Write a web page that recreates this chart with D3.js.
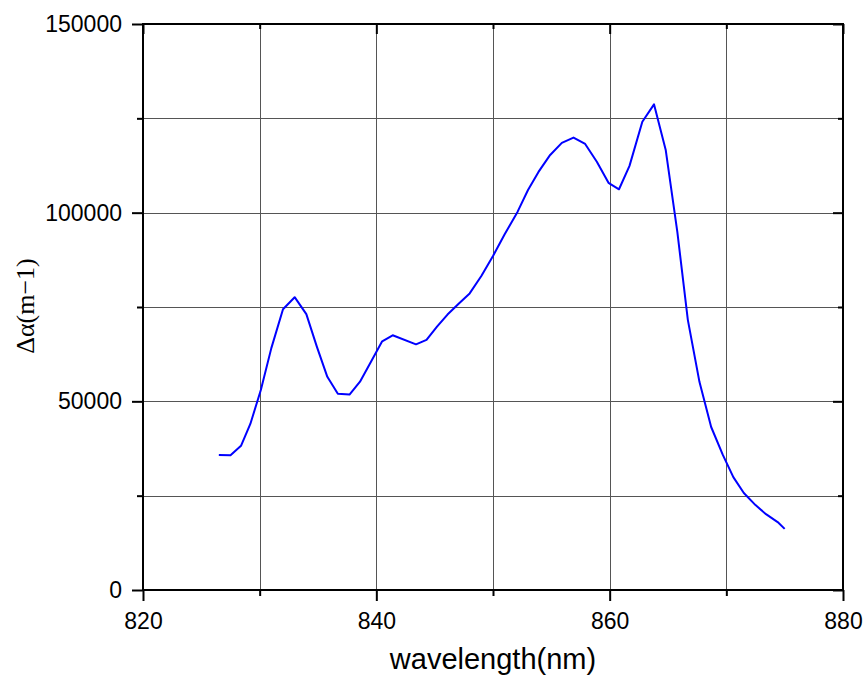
<!DOCTYPE html>
<html>
<head>
<meta charset="utf-8">
<script src="https://cdn.jsdelivr.net/npm/d3@7"></script>
<style>
  html, body { margin: 0; padding: 0; background: #fff; }
  svg { display: block; }
  .tick text { font-family: "Liberation Sans", Arial, sans-serif; }
</style>
</head>
<body>
<svg id="chart" width="868" height="682"></svg>
<script>
// Wavelength (nm) of each sample
const wavelength = [
  826.5, 827.5, 828.4, 829.2, 830.1, 831.0, 832.0, 833.0, 834.0, 834.9,
  835.8, 836.7, 837.7, 838.6, 839.6, 840.5, 841.4, 843.4, 844.3, 845.2,
  846.1, 847.1, 848.0, 849.0, 850.0, 851.0, 852.1, 853.0, 853.9, 854.9,
  855.9, 856.9, 857.9, 858.9, 859.9, 860.8, 861.7, 862.8, 863.8, 864.8,
  865.8, 866.7, 867.7, 868.7, 869.7, 870.6, 871.5, 872.5, 873.4, 874.4,
  875.0
];
// Absorption change Δα (m^-1)
const deltaAlpha = [
  35800, 35700, 38200, 44000, 53000, 64100, 74400, 77600, 73100, 64500,
  56500, 52000, 51800, 55200, 60800, 65900, 67500, 65100, 66300, 69800,
  73000, 76000, 78600, 83200, 88500, 94300, 100200, 106000, 110800, 115300,
  118500, 119900, 118200, 113500, 107900, 106200, 112400, 124100, 128700, 116700,
  94900, 71600, 55100, 43200, 35800, 29900, 25700, 22500, 20100, 18000,
  16200
];
const xTicks = [820, 840, 860, 880];
const xMinorTicks = [830, 850, 870];
const yTicks = [0, 50000, 100000, 150000];
const yMinorTicks = [25000, 75000, 125000];
const xGrid = [830, 840, 850, 860, 870];
const yGrid = [25000, 50000, 75000, 100000, 125000];

const svg = d3.select("#chart");
const plotLeft = 143, plotRight = 843, plotTop = 24, plotBottom = 590;

const x = d3.scaleLinear().domain([820, 880]).range([plotLeft, plotRight]);
const y = d3.scaleLinear().domain([0, 150000]).range([plotBottom, plotTop]);

// grid
const grid = svg.append("g").attr("stroke", "#555").attr("stroke-width", 1);
grid.selectAll("line.gx").data(xGrid).join("line")
  .attr("x1", d => Math.round(x(d)) + 0.5).attr("x2", d => Math.round(x(d)) + 0.5)
  .attr("y1", plotTop).attr("y2", plotBottom);
grid.selectAll("line.gy").data(yGrid).join("line")
  .attr("y1", d => Math.round(y(d)) + 0.5).attr("y2", d => Math.round(y(d)) + 0.5)
  .attr("x1", plotLeft).attr("x2", plotRight);

function styleAxis(g) {
  g.select(".domain").remove();
  g.selectAll(".tick line").attr("stroke", "#000").attr("stroke-width", 2);
  g.selectAll(".tick text").attr("fill", "#000").attr("font-size", 23);
}

// bottom axis (outward ticks, labelled)
svg.append("g").attr("transform", `translate(0,${plotBottom})`)
  .call(d3.axisBottom(x).tickValues(xTicks).tickFormat(d3.format("d")).tickSize(11).tickPadding(12))
  .call(styleAxis);
svg.append("g").attr("transform", `translate(0,${plotBottom})`)
  .call(d3.axisBottom(x).tickValues(xMinorTicks).tickFormat("").tickSize(6))
  .call(styleAxis);

// left axis (outward ticks, labelled)
svg.append("g").attr("transform", `translate(${plotLeft},0)`)
  .call(d3.axisLeft(y).tickValues(yTicks).tickFormat(d3.format("d")).tickSize(11).tickPadding(10))
  .call(styleAxis);
svg.append("g").attr("transform", `translate(${plotLeft},0)`)
  .call(d3.axisLeft(y).tickValues(yMinorTicks).tickFormat("").tickSize(6))
  .call(styleAxis);

// top axis (inward ticks)
svg.append("g").attr("transform", `translate(0,${plotTop})`)
  .call(d3.axisTop(x).tickValues(xTicks).tickFormat("").tickSize(-10))
  .call(styleAxis);
svg.append("g").attr("transform", `translate(0,${plotTop})`)
  .call(d3.axisTop(x).tickValues(xMinorTicks).tickFormat("").tickSize(-5))
  .call(styleAxis);

// right axis (inward ticks)
svg.append("g").attr("transform", `translate(${plotRight},0)`)
  .call(d3.axisRight(y).tickValues(yTicks).tickFormat("").tickSize(-10))
  .call(styleAxis);
svg.append("g").attr("transform", `translate(${plotRight},0)`)
  .call(d3.axisRight(y).tickValues(yMinorTicks).tickFormat("").tickSize(-5))
  .call(styleAxis);

// frame
svg.append("rect")
  .attr("x", plotLeft).attr("y", plotTop)
  .attr("width", plotRight - plotLeft).attr("height", plotBottom - plotTop)
  .attr("fill", "none").attr("stroke", "#000").attr("stroke-width", 2);

// spectrum
const line = d3.line().x(d => x(d[0])).y(d => y(d[1]));
svg.append("path")
  .datum(d3.zip(wavelength, deltaAlpha))
  .attr("fill", "none")
  .attr("stroke", "#0000ff")
  .attr("stroke-width", 2)
  .attr("stroke-linejoin", "round")
  .attr("d", line);

// axis titles
svg.append("text")
  .attr("x", (plotLeft + plotRight) / 2).attr("y", 669)
  .attr("text-anchor", "middle")
  .attr("font-family", "'Liberation Sans', Arial, sans-serif")
  .attr("font-size", 29)
  .text("wavelength(nm)");

svg.append("text")
  .attr("transform", "translate(34,306) rotate(-90)")
  .attr("text-anchor", "middle")
  .attr("font-family", "'Liberation Serif', 'Times New Roman', serif")
  .attr("font-size", 26)
  .text("Δα(m−1)");
</script>
</body>
</html>
